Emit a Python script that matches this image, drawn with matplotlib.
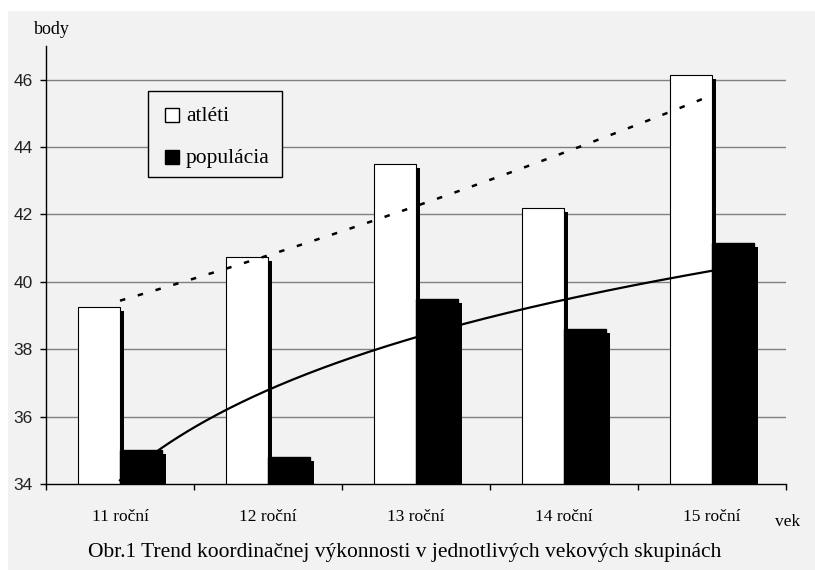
import numpy as np
import matplotlib
matplotlib.use("Agg")
import matplotlib.pyplot as plt
from matplotlib.patches import Rectangle
import matplotlib.patheffects as pe

categories = ["11 roční", "12 roční", "13 roční", "14 roční", "15 roční"]
atleti = [39.25, 40.75, 43.5, 42.2, 46.15]
populacia = [35.0, 34.8, 39.5, 38.6, 41.15]
yticks = [34, 36, 38, 40, 42, 44, 46]
legend_labels = ["atléti", "populácia"]

BG = "#f2f2f2"
W, H = 815, 570


def fx(px):
    return px / W


def fy(py):
    return 1 - py / H


fig = plt.figure(figsize=(W / 100, H / 100), dpi=100, facecolor="white")
fig.patches.append(Rectangle((fx(8), 0), 1 - fx(8), fy(11), transform=fig.transFigure,
                             facecolor=BG, edgecolor="none", zorder=-10))

ax = fig.add_axes([fx(46), fy(484), (786 - 46) / W, (484 - 46) / H])
ax.set_facecolor(BG)
ax.set_xlim(-0.5, 4.5)
ax.set_ylim(34, 47)

x = np.arange(len(categories))
bw = 1 / 3.5
shadow = [pe.SimplePatchShadow(offset=(3.0, -3.0), shadow_rgbFace="black", alpha=1.0), pe.Normal()]

ax.bar(x - bw / 2, atleti, width=bw, color="white", edgecolor="black", linewidth=0.8,
       zorder=2, path_effects=shadow)
ax.bar(x + bw / 2, populacia, width=bw, color="black", edgecolor="black", linewidth=1.0,
       zorder=3, path_effects=shadow)

# trend lines (fitted from the data, like spreadsheet trendlines)
xs = np.linspace(0, 4, 200)
xn = np.arange(1, 6)
pa = np.polyfit(xn, atleti, 2)
ax.plot(xs, np.polyval(pa, xs + 1), color="black", linewidth=1.8, dashes=[2.2, 5.2],
        zorder=5, solid_capstyle="butt")
pl = np.polyfit(np.log(xn), populacia, 1)
ax.plot(xs, np.polyval(pl, np.log(xs + 1)), color="black", linewidth=1.6, zorder=2.5)

# grid
for yv in yticks[1:]:
    ax.axhline(yv, color="#808080", linewidth=1.0, zorder=1)

for s in ["top", "right"]:
    ax.spines[s].set_visible(False)
for s in ["left", "bottom"]:
    ax.spines[s].set_color("black")
    ax.spines[s].set_linewidth(1.0)

ax.set_yticks(yticks)
ax.set_yticklabels([str(v) for v in yticks], fontfamily="Liberation Sans", fontsize=12.5,
                   color="#222222")
ax.tick_params(axis="y", direction="out", length=4.5, width=1, pad=5)

ax.set_xticks(x)
ax.set_xticklabels(categories, fontfamily="Liberation Serif", fontsize=12.5)
ax.tick_params(axis="x", which="major", length=0, pad=18)
ax.set_xticks(np.arange(-0.5, 5.0, 1.0), minor=True)
ax.tick_params(axis="x", which="minor", direction="out", length=4.5, width=1)

fig.text(fx(52), fy(29), "body", fontfamily="Liberation Serif", fontsize=13,
         ha="center", va="center")
fig.text(fx(788), fy(522), "vek", fontfamily="Liberation Serif", fontsize=12.5,
         ha="center", va="center")
fig.text(fx(405), fy(552),
         "Obr.1 Trend koordinačnej výkonnosti v jednotlivých vekových skupinách",
         fontfamily="Liberation Serif", fontsize=15.5, ha="center", va="center")

# legend box drawn in figure pixel positions
fig.patches.append(Rectangle((fx(148), fy(177)), (282 - 148) / W, (177 - 91) / H,
                             transform=fig.transFigure, facecolor=BG, edgecolor="black",
                             linewidth=1.0, zorder=20))
for lbl, fc, top, base in zip(legend_labels, ["white", "black"], [108, 150], [121, 163.5]):
    fig.patches.append(Rectangle((fx(165), fy(top + 13.5)), 14 / W, 13.5 / H,
                                 transform=fig.transFigure, facecolor=fc,
                                 edgecolor="black", linewidth=1.0, zorder=21))
    fig.text(fx(186), fy(base), lbl, fontfamily="Liberation Serif", fontsize=15.5,
             ha="left", va="baseline", zorder=22)

fig.savefig("out.png", dpi=100, facecolor="white")
